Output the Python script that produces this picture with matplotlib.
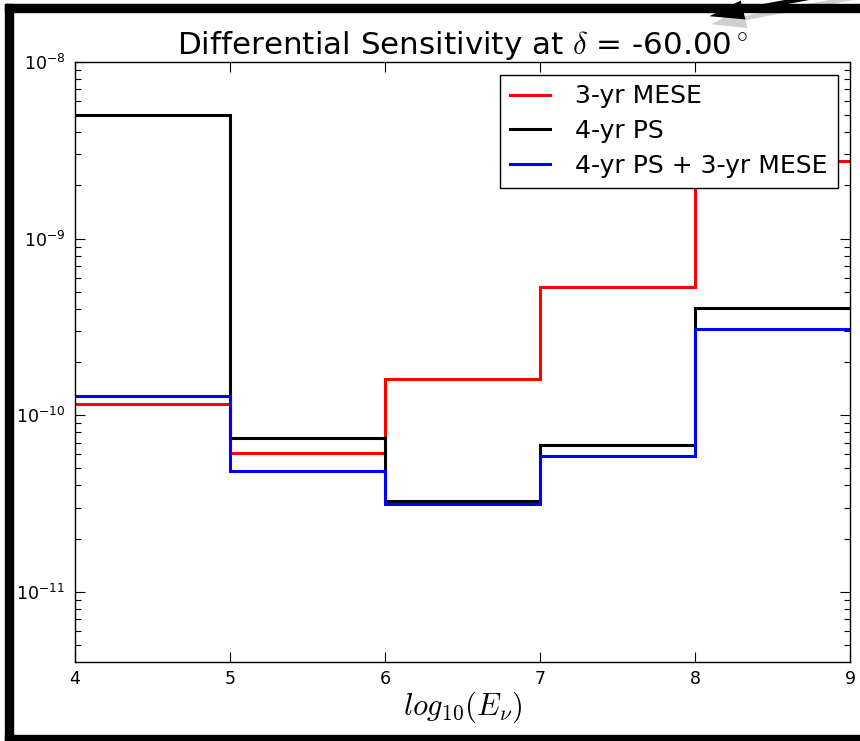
import numpy as np
import matplotlib
matplotlib.use("Agg")
import matplotlib.pyplot as plt
from matplotlib.patches import Rectangle, FancyArrow

# bin edges in log10(E_nu)
bordes = [4, 5, 6, 7, 8, 9]

# sensibilidad diferencial por bin
mese_3yr = [1.16e-10, 6.09e-11, 1.60e-10, 5.35e-10, 2.76e-9]
ps_4yr = [5.01e-9, 7.38e-11, 3.27e-11, 6.82e-11, 4.06e-10]
ps_mese = [1.29e-10, 4.82e-11, 3.16e-11, 5.87e-11, 3.06e-10]

etiquetas = ["3-yr MESE", "4-yr PS", "4-yr PS + 3-yr MESE"]
colores = ["red", "black", "blue"]
declinacion = -60.0

plt.rcParams['mathtext.fontset'] = 'cm'
plt.rcParams['font.family'] = 'DejaVu Sans'
plt.rcParams['axes.unicode_minus'] = False

W, H = 860, 741
fig = plt.figure(figsize=(W / 100, H / 100), dpi=100)
ax = fig.add_axes([75 / W, 1 - 661.5 / H, 775 / W, (661.5 - 62) / H])

for serie, etiqueta, color in zip([mese_3yr, ps_4yr, ps_mese], etiquetas, colores):
    ax.stairs(serie, bordes, baseline=None, color=color, lw=2.2, label=etiqueta)

ax.set_yscale('log')
ax.set_xlim(4, 9)
ax.set_ylim(4.03e-12, 1e-8)
ax.set_xticks(bordes)

ax.tick_params(which='both', direction='in', top=True, right=True, labelsize=12.5)
ax.tick_params(which='major', length=7, width=0.8)
ax.tick_params(which='minor', length=4, width=0.8)
ax.tick_params(axis='x', pad=6)
ax.tick_params(axis='y', pad=7)
for s in ax.spines.values():
    s.set_linewidth(1.0)

ax.set_title(r'Differential Sensitivity at $\delta$ = %.2f$^\circ$' % declinacion,
             fontsize=22.3, pad=6)
ax.set_xlabel(r'$log_{10}(E_{\nu})$', fontsize=22, labelpad=1)

leg = ax.legend(loc='upper right', fontsize=18, fancybox=False, framealpha=1,
                edgecolor='black', handlelength=1.6, handletextpad=1.0,
                labelspacing=0.42, borderaxespad=0.5, borderpad=0.4)
leg.get_frame().set_linewidth(1.0)

# marco negro alrededor de la figura
marco = [(5, 4, 8, H - 4), (5, 4, W - 5, 8), (5, 735, W - 5, 8)]
for x0, y0, w, h in marco:
    fig.patches.append(Rectangle((x0 / W, 1 - (y0 + h) / H), w / W, h / H,
                                 transform=fig.transFigure, color='black', zorder=10))

# flecha arriba a la derecha
fig.patches.append(FancyArrow(905 / W, 1 + 12 / H, -160 / W, -30 / H, width=0.006,
                              head_width=0.028, head_length=0.04,
                              transform=fig.transFigure, color='#b0b0b0', alpha=0.6,
                              lw=0, zorder=9))
fig.patches.append(FancyArrow(905 / W, 1 + 20 / H, -162 / W, -30 / H, width=0.006,
                              head_width=0.026, head_length=0.04,
                              transform=fig.transFigure, color='black', lw=0, zorder=11))

fig.savefig('out.png', dpi=100)
